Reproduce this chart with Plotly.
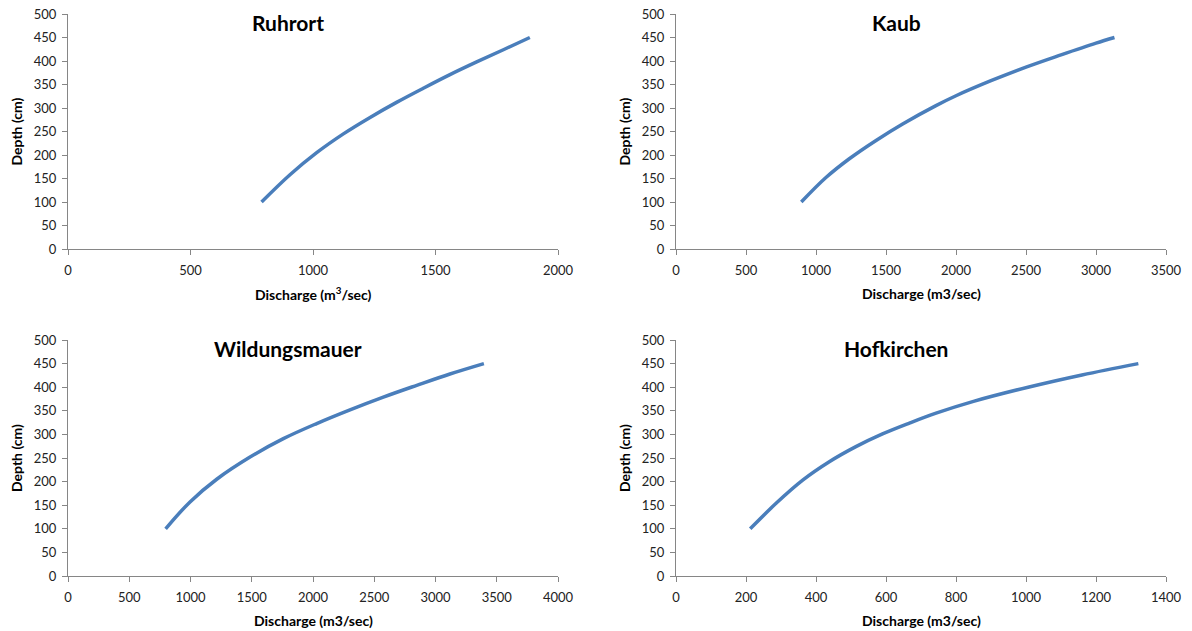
import plotly.graph_objects as go

# ---- data ----
stations = ["Ruhrort", "Kaub", "Wildungsmauer", "Hofkirchen"]

ruhrort_q = [790, 906, 1015, 1124, 1233, 1341, 1450, 1559, 1668, 1777, 1885]
ruhrort_h = [100, 158, 205, 245, 280, 312, 342, 371, 398, 424, 450]

kaub_q = [895, 1071, 1238, 1429, 1619, 1857, 2000, 2250, 2500, 2750, 3000, 3132]
kaub_h = [100, 152, 192, 231, 266, 305, 326, 358, 387, 413, 438, 450]

wild_q = [797, 996, 1214, 1486, 1758, 2030, 2302, 2574, 2847, 3118, 3395]
wild_h = [100, 157, 205, 252, 291, 323, 352, 379, 404, 428, 450]

hof_q = [212, 286, 362, 438, 514, 590, 667, 743, 850, 1006, 1160, 1321]
hof_h = [100, 154, 203, 242, 274, 301, 324, 345, 370, 400, 426, 450]

x_ranges = [[0, 2000], [0, 3500], [0, 4000], [0, 1400]]
x_dticks = [500, 500, 500, 200]
y_range = [0, 500]
y_dtick = 50

x_titles = ["Discharge (m<sup>3</sup>/sec)", "Discharge (m3/sec)",
            "Discharge (m3/sec)", "Discharge (m3/sec)"]
y_title = "Depth (cm)"

series = [(ruhrort_q, ruhrort_h), (kaub_q, kaub_h), (wild_q, wild_h), (hof_q, hof_h)]

# ---- layout geometry (page body adds an 8px offset) ----
OFF = 8
W, H = 1192 - OFF, 631 - OFF
px_x = [(68, 558), (676, 1166), (68, 558), (676, 1166)]
px_y = [(14, 249), (14, 249), (340, 576), (340, 576)]

FONT = "Lato, Carlito, Calibri, sans-serif"
AXIS_COLOR = "#868686"
LINE_COLOR = "#4A7EBB"


def fx(p):
    return (p - OFF) / W


def fy(p):
    return 1 - (p - OFF) / H


fig = go.Figure()
annotations = []
for i, (name, (q, h)) in enumerate(zip(stations, series)):
    n = "" if i == 0 else str(i + 1)
    fig.add_trace(go.Scatter(
        x=q, y=h, mode="lines",
        line=dict(color=LINE_COLOR, width=3.5, shape="spline", smoothing=1.0),
        xaxis="x" + n, yaxis="y" + n, showlegend=False, hoverinfo="x+y"))
    x0, x1 = px_x[i]
    y0, y1 = px_y[i]
    common = dict(showgrid=False, zeroline=False, showline=True, linecolor=AXIS_COLOR,
                  linewidth=1.3, ticks="outside", tickcolor=AXIS_COLOR, ticklen=5,
                  tickwidth=1, automargin=False, ticklabeloverflow="allow",
                  tickfont=dict(family=FONT, size=13, color="#222222"))
    fig.layout["xaxis" + n] = dict(domain=[fx(x0), fx(x1)], range=x_ranges[i],
                                   dtick=x_dticks[i], tick0=0, anchor="y" + n,
                                   ticklabelstandoff=4, **common)
    fig.layout["yaxis" + n] = dict(domain=[fy(y1), fy(y0)], range=y_range, dtick=y_dtick,
                                   tick0=0, anchor="x" + n, ticklabelstandoff=3, **common)
    cx = (x0 + x1) / 2
    # station title
    annotations.append(dict(text="<b>%s</b>" % name, x=fx(cx - 25), y=fy(y0 + 8),
                            xref="paper", yref="paper", showarrow=False,
                            font=dict(family=FONT, size=21, color="#000000"),
                            xanchor="center", yanchor="middle"))
    # x axis title
    annotations.append(dict(text="<b>%s</b>" % x_titles[i], x=fx(cx), y=fy(y1 + 44),
                            xref="paper", yref="paper", showarrow=False,
                            font=dict(family=FONT, size=14, color="#000000"),
                            xanchor="center", yanchor="middle"))
    # y axis title
    annotations.append(dict(text="<b>%s</b>" % y_title, x=fx(x0 - 52),
                            y=fy((y0 + y1) / 2), xref="paper", yref="paper",
                            showarrow=False, textangle=-90,
                            font=dict(family=FONT, size=14, color="#000000"),
                            xanchor="center", yanchor="middle"))

fig.update_layout(width=W, height=H, margin=dict(l=0, r=0, t=0, b=0),
                  paper_bgcolor="white", plot_bgcolor="white",
                  annotations=annotations, font=dict(family=FONT))

fig.write_html("out.html")
